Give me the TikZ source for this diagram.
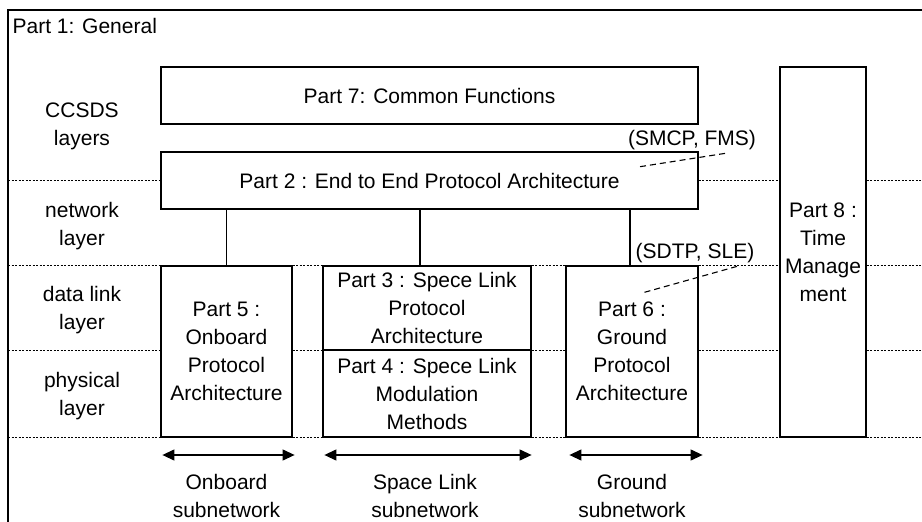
\documentclass[tikz,border=0pt]{standalone}
\usepackage{fontspec}
\setmainfont{Liberation Sans}
\usetikzlibrary{arrows.meta}
\newcommand{\partfont}{\fontsize{21}{28}\selectfont}

\begin{document}
\begin{tikzpicture}[x=1pt,y=-1pt,line width=1.2pt,font=\partfont,
                    >={Triangle[length=12pt,width=11pt]}]
    \tikzstyle{part}=[draw=black,align=center,inner sep=0pt]
    \tikzstyle{layer}=[align=center,inner sep=0pt]
    \tikzstyle{sep}=[dash pattern=on 2pt off 1.5pt,line width=1pt]
    \tikzstyle{leader}=[dash pattern=on 6pt off 4pt,line width=1.1pt]

    \useasboundingbox (0,0) rectangle (922,522);
    \coordinate (frameL) at (8,10);
    \coordinate (frameR) at (922,10);

    % Part 1 frame
    \draw (frameL |- 0,522) |- (frameR);
    \node[layer, anchor=west] (gen) at (12,26) {Part 1: General};

    % boxes
    \node[part, minimum width=537pt, minimum height=57pt] (p7) at (429.5,95.5)  {Part 7: Common Functions};
    \node[part, minimum width=537pt, minimum height=57pt] (p2) at (429.5,180.5) {Part 2 : End to End Protocol Architecture};
    \node[part, minimum width=86pt,  minimum height=370pt] (p8) at (823,252)   {Part 8 :\\Time\\Manage\\ment};
    \node[part, minimum width=131pt, minimum height=171pt] (p5) at (226.5,351.5) {Part 5 :\\Onboard\\Protocol\\Architecture};
    \node[part, minimum width=208pt, minimum height=84pt]  (p3) at (427,308)   {Part 3 : Spece Link\\Protocol\\Architecture};
    \node[part, minimum width=208pt, minimum height=87pt]  (p4) at (427,393.5) {Part 4 : Spece Link\\Modulation\\Methods};
    \node[part, minimum width=132pt, minimum height=171pt] (p6) at (632,351.5) {Part 6 :\\Ground\\Protocol\\Architecture};

    % layer names
    \node[layer] (ccsds) at (82,126) {CCSDS\\layers};
    \node[layer] (net)   at (82,226) {network\\layer};
    \node[layer] (dll)   at (82,310) {data link\\layer};
    \node[layer] (phy)   at (82,396) {physical\\layer};

    % layer boundaries
    \draw[sep] (frameL |- p2.west) -- (p2.west)
               (p2.east) -- (p8.west |- p2.east)
               (p8.east |- p2.east) -- (frameR |- p2.east);
    \foreach \lvl in {p5.north, p3.south, p5.south} {
        \draw[sep] (frameL |- \lvl) -- (p5.west |- \lvl)
                   (p5.east |- \lvl) -- (p3.west |- \lvl)
                   (p3.east |- \lvl) -- (p6.west |- \lvl)
                   (p6.east |- \lvl) -- (p8.west |- \lvl)
                   (p8.east |- \lvl) -- (frameR |- \lvl);
    }

    % links to part 2
    \coordinate (j34) at (420,0);
    \draw (p5.north) -- (p5.north |- p2.south)
          (j34 |- p3.north) -- (j34 |- p2.south)
          ([xshift=-2pt]p6.north) -- ([xshift=-2pt]p6.north |- p2.south);

    % protocol notes
    \node[layer] (smcp) at (692,140) {(SMCP, FMS)};
    \node[layer] (sdtp) at (695,253) {(SDTP, SLE)};
    \coordinate (smcpTip) at (638,167);
    \coordinate (sdtpTip) at (642,293);
    \draw[leader] ([xshift=33pt,yshift=-3pt]smcp.south) -- (smcpTip);
    \draw[leader] ([xshift=42pt,yshift=-3pt]sdtp.south) -- (sdtpTip);

    % subnetworks
    \coordinate (arr) at (0,455);
    \coordinate (sub) at (0,496);
    \draw[<->] ([xshift=2pt]p5.west |- arr) -- ([xshift=2pt]p5.east |- arr);
    \draw[<->] ([xshift=2pt]p3.west |- arr) -- (p3.east |- arr);
    \draw[<->] ([xshift=4pt]p6.west |- arr) -- ([xshift=4pt]p6.east |- arr);
    \node[layer] (onb) at (p5.south |- sub)               {Onboard\\subnetwork};
    \node[layer] (spl) at ([xshift=-2pt]p4.south |- sub)  {Space Link\\subnetwork};
    \node[layer] (gnd) at (p6.south |- sub)               {Ground\\subnetwork};
\end{tikzpicture}
\end{document}
